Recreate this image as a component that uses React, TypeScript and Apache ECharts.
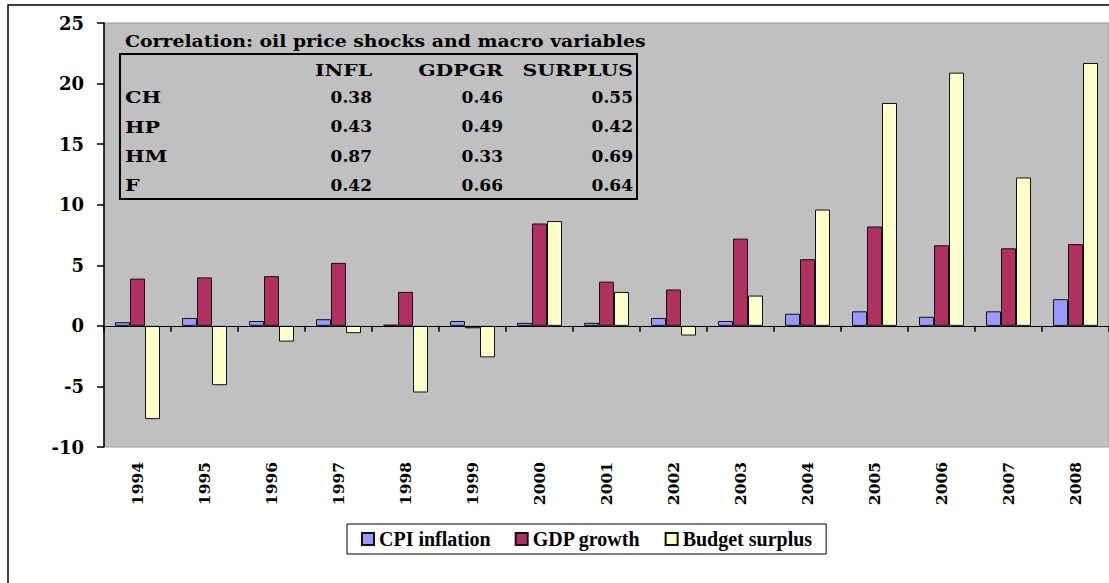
import React, { useEffect, useRef } from "react";
import * as echarts from "echarts";

const years = ["1994", "1995", "1996", "1997", "1998", "1999", "2000", "2001", "2002", "2003", "2004", "2005", "2006", "2007", "2008"];
const cpiInflation = [0.3, 0.65, 0.4, 0.55, 0.1, 0.4, 0.25, 0.25, 0.65, 0.4, 1.0, 1.2, 0.75, 1.2, 2.2];
const gdpGrowth = [3.9, 4.0, 4.1, 5.2, 2.8, -0.2, 8.45, 3.65, 3.0, 7.2, 5.5, 8.2, 6.65, 6.4, 6.75];
const budgetSurplus = [-7.7, -4.9, -1.3, -0.6, -5.5, -2.6, 8.65, 2.8, -0.8, 2.5, 9.6, 18.4, 20.9, 12.25, 21.7];

const tableTitle = "Correlation: oil price shocks and macro variables";
const tableHeaders = ["INFL", "GDPGR", "SURPLUS"];
const tableRows = ["CH", "HP", "HM", "F"];
const corrInfl = [0.38, 0.43, 0.87, 0.42];
const corrGdpgr = [0.46, 0.49, 0.33, 0.66];
const corrSurplus = [0.55, 0.42, 0.69, 0.64];

const AXIS_FONT = '"DejaVu Serif", serif';
const LEGEND_FONT = '"Liberation Serif", "Times New Roman", serif';

export default function App() {
  const ref = useRef<HTMLDivElement>(null);

  useEffect(() => {
    if (!ref.current) return;
    const chart = echarts.init(ref.current, undefined, { renderer: "svg" });

    const tFont = `bold 17px ${AXIS_FONT}`;
    const colX = [372, 503, 633];
    const headerY = 70;
    const rowY0 = 97;
    const rowStep = 29.3;
    const cols = [corrInfl, corrGdpgr, corrSurplus];

    const tableEls: any[] = [
      {
        type: "rect",
        shape: { x: 120, y: 54, width: 517, height: 145 },
        style: { fill: "none", stroke: "#000", lineWidth: 2 },
      },
      {
        type: "text",
        x: 125,
        y: 41,
        scaleX: 1.11,
        style: { text: tableTitle, fill: "#000", font: tFont, align: "left", verticalAlign: "middle" },
      },
    ];
    tableHeaders.forEach((h, i) => {
      tableEls.push({
        type: "text",
        x: colX[i],
        y: headerY,
        scaleX: 1.2,
        style: { text: h, fill: "#000", font: tFont, align: "right", verticalAlign: "middle" },
      });
    });
    tableRows.forEach((r, j) => {
      const y = rowY0 + j * rowStep;
      tableEls.push({
        type: "text",
        x: 125,
        y,
        scaleX: 1.22,
        style: { text: r, fill: "#000", font: tFont, align: "left", verticalAlign: "middle" },
      });
      cols.forEach((c, i) => {
        tableEls.push({
          type: "text",
          x: colX[i],
          y,
          style: { text: c[j].toFixed(2), fill: "#000", font: tFont, align: "right", verticalAlign: "middle" },
        });
      });
    });

    const barBase = { type: "bar", barWidth: 15, barGap: "0%", xAxisIndex: 0, z: 3 };
    const border = { borderColor: "#111", borderWidth: 1 };

    chart.setOption({
      animation: false,
      backgroundColor: "#fff",
      grid: {
        left: 104,
        top: 23,
        right: 0,
        bottom: 136,
        show: true,
        backgroundColor: "#C0C0C0",
        borderColor: "#9a9a9a",
        borderWidth: 1,
      },
      legend: {
        left: 347,
        top: 524,
        padding: [5, 14, 5, 14],
        borderColor: "#000",
        borderWidth: 1,
        itemGap: 24,
        itemWidth: 12,
        itemHeight: 12,
        icon: "rect",
        textStyle: { fontFamily: LEGEND_FONT, fontWeight: "bold", fontSize: 20, color: "#000" },
        data: ["CPI inflation", "GDP growth", "Budget surplus"],
      },
      xAxis: [
        {
          type: "category",
          data: years,
          position: "bottom",
          z: 5,
          axisLine: { show: true, onZero: true, lineStyle: { color: "#000", width: 1.2 } },
          axisTick: { show: true, length: 6, lineStyle: { color: "#000", width: 1.5 } },
          axisLabel: { show: false },
        },
        {
          type: "category",
          data: years,
          position: "bottom",
          axisLine: { show: false, onZero: false },
          axisTick: { show: false },
          axisLabel: {
            rotate: 90,
            margin: 15,
            color: "#000",
            fontFamily: AXIS_FONT,
            fontWeight: "bold",
            fontSize: 15.5,
          },
        },
      ],
      yAxis: {
        type: "value",
        min: -10,
        max: 25,
        interval: 5,
        z: 5,
        splitLine: { show: false },
        axisLine: { show: true, onZero: false, lineStyle: { color: "#000", width: 1.5 } },
        axisTick: { show: true, length: 7, lineStyle: { color: "#000", width: 1.5 } },
        axisLabel: {
          margin: 20,
          color: "#000",
          fontFamily: AXIS_FONT,
          fontWeight: "bold",
          fontSize: 18,
        },
      },
      series: [
        { ...barBase, name: "CPI inflation", data: cpiInflation, itemStyle: { color: "#9999FF", ...border } },
        { ...barBase, name: "GDP growth", data: gdpGrowth, itemStyle: { color: "#B03060", ...border } },
        { ...barBase, name: "Budget surplus", data: budgetSurplus, itemStyle: { color: "#FFFFCC", ...border } },
      ],
      graphic: [
        {
          type: "rect",
          shape: { x: 8, y: 5, width: 1200, height: 700 },
          style: { fill: "none", stroke: "#000", lineWidth: 1.5 },
          z: 100,
        },
        { type: "group", children: tableEls, z: 100 },
      ],
    });

    return () => chart.dispose();
  }, []);

  return (
    <div
      ref={ref}
      style={{ position: "fixed", left: 0, top: 0, width: 1109, height: 583 }}
    />
  );
}
